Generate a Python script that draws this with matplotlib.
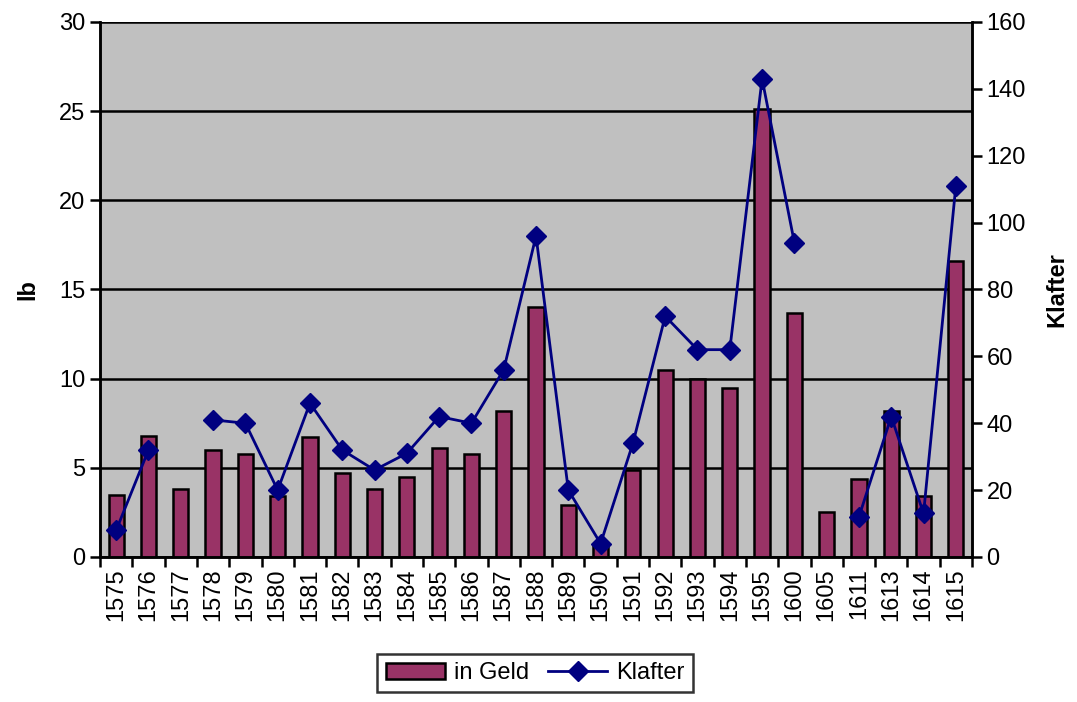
import numpy as np
import matplotlib.pyplot as plt
from matplotlib.patches import Patch
from matplotlib.lines import Line2D

plt.rcParams['font.family'] = ['Liberation Sans', 'DejaVu Sans']

years = ['1575', '1576', '1577', '1578', '1579', '1580', '1581', '1582', '1583',
         '1584', '1585', '1586', '1587', '1588', '1589', '1590', '1591', '1592',
         '1593', '1594', '1595', '1600', '1605', '1611', '1613', '1614', '1615']
geld = [3.5, 6.8, 3.8, 6.0, 5.8, 3.4, 6.7, 4.7, 3.8, 4.5, 6.1, 5.8, 8.2, 14.0,
        2.9, 0.6, 4.9, 10.5, 10.0, 9.5, 25.1, 13.7, 2.5, 4.4, 8.2, 3.4, 16.6]
klafter = [8, 32, np.nan, 41, 40, 20, 46, 32, 26, 31, 42, 40, 56, 96, 20, 4,
           34, 72, 62, 62, 143, 94, np.nan, 12, 42, 13, 111]

bar_color = '#993366'
line_color = '#000080'

fig = plt.figure(figsize=(10.77, 7.02), dpi=100)
ax = fig.add_axes([0.0929, 0.2066, 0.8096, 0.7621])
ax.set_facecolor('#c0c0c0')

x = np.arange(len(years))
ax.bar(x, geld, width=0.47, color=bar_color, edgecolor='black', linewidth=1.8, zorder=3)
ax.set_xlim(-0.5, len(years) - 0.5)
ax.set_ylim(0, 30)
ax.set_yticks(range(0, 31, 5))
ax.yaxis.grid(True, color='black', linewidth=1.8, zorder=1)
ax.set_axisbelow(True)

ax.set_xticks(x)
ax.set_xticklabels(years, rotation=90, fontsize=17)
ax.set_xticks(np.arange(-0.5, len(years), 1), minor=True)
ax.tick_params(axis='x', which='major', length=0, pad=8)
ax.tick_params(axis='x', which='minor', length=7, width=1.8, direction='out')
ax.tick_params(axis='y', labelsize=17, length=7, width=1.8, direction='out')
ax.set_ylabel('lb', fontsize=17, fontweight='bold', labelpad=14)

ax2 = ax.twinx()
ax2.plot(x, klafter, color=line_color, linewidth=2, marker='D', markersize=10, zorder=4)
ax2.set_ylim(0, 160)
ax2.set_yticks(range(0, 161, 20))
ax2.tick_params(axis='y', labelsize=17, length=7, width=1.8, direction='out')
ax2.set_ylabel('Klafter', fontsize=17, fontweight='bold', labelpad=14)

for a in (ax, ax2):
    a.spines['top'].set_visible(False)
    for side in ('left', 'right', 'bottom'):
        a.spines[side].set_linewidth(1.8)

handles = [Patch(facecolor=bar_color, edgecolor='black', linewidth=1.8),
           Line2D([0], [0], color=line_color, linewidth=2, marker='D', markersize=10)]
leg = fig.legend(handles, ['in Geld', 'Klafter'], loc='lower center', ncol=2,
                 bbox_to_anchor=(0.497, -0.003), fontsize=17, frameon=True, fancybox=False,
                 edgecolor='black', handlelength=2.5, columnspacing=0.8,
                 handletextpad=0.4, borderpad=0.35)
leg.get_frame().set_linewidth(1.8)

fig.savefig('out.png', dpi=100)
